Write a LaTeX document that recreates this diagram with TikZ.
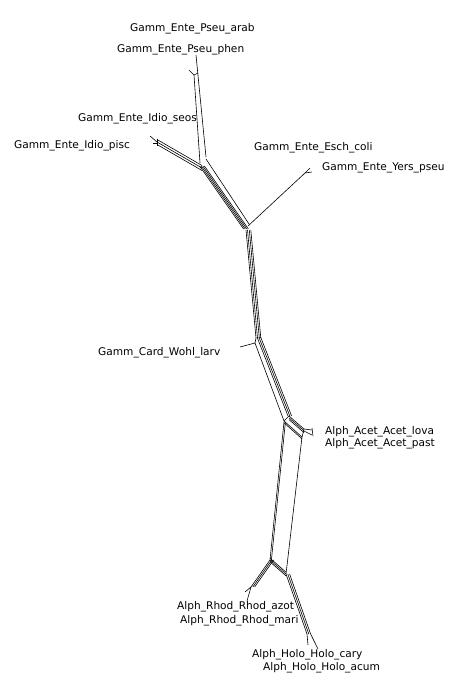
\documentclass[tikz,border=0pt]{standalone}
\usepackage{fontspec}
\setmainfont{DejaVu Sans}
\tikzset{
  edge/.style={line width=0.6pt, draw=black},
  lab/.style={font=\fontsize{10.6}{12}\selectfont, anchor=west, inner sep=0pt}
}

\begin{document}
\begin{tikzpicture}[x=1pt,y=-1pt]
  \useasboundingbox (0,0) rectangle (468,700);

  % Gamm_Ente_Pseu
  \coordinate (phen) at (196,55);
  \coordinate (arab) at (189,70);
  \coordinate (pj) at (194,75);
  \coordinate (pa) at (206,157);
  \coordinate (pb) at (200,163);
  \draw[edge] (phen) -- (pa);
  \draw[edge] (pj) -- (pb);
  \draw[edge] (arab) -- (pj) -- (198,73);

  % Gamm_Ente_Idio
  \coordinate (pisc) at (150,136);
  \coordinate (ij) at (157,142);
  \coordinate (ie) at (202,168);
  \foreach \o in {-2.5,0,2.5}
    \draw[edge] ([yshift=\o]ij) -- ([yshift=\o]ie);
  \draw[edge] (pisc) -- (ij);
  \draw[edge] (157,139) -- (157,146);
  \draw[edge] (153,143) -- (157,143);

  % band down to the Gamm_Ente junction
  \coordinate (gtop) at (202,166);
  \coordinate (gbot) at (246,229);
  \foreach \o in {-2.4,-0.8,0.8,2.4}
    \draw[edge] ([xshift=\o]gtop) -- ([xshift=\o]gbot);
  \draw[edge] (206,159) -- (249,224);

  % Esch / Yers
  \coordinate (gj) at (248,226);
  \coordinate (ey) at (305,173);
  \draw[edge] (gj) -- (ey);
  \draw[edge] (ey) -- (310,168);
  \draw[edge] (ey) -- (312,172);

  % long middle band
  \coordinate (m1) at (246,230);
  \coordinate (m2) at (256,338);
  \foreach \o in {0,1.5,3.3,4.8}
    \draw[edge] ([xshift=\o]m1) -- ([xshift=\o]m2);

  % Gamm_Card_Wohl
  \coordinate (wj) at (255,343);
  \coordinate (wohl) at (240,347);
  \draw[edge] (wj) -- (wohl);
  \draw[edge] (m2) -- (wj);

  % band down to Alph_Acet
  \coordinate (b1) at (257,337);
  \coordinate (b2) at (288,416);
  \foreach \o in {0,1.8,3.6}
    \draw[edge] ([xshift=\o]b1) -- ([xshift=\o]b2);
  \draw[edge] (wj) -- (284,421);

  % Alph_Acet box
  \coordinate (a1) at (289,416);
  \coordinate (a2) at (304,429);
  \coordinate (a3) at (284,421);
  \coordinate (a4) at (302,437);
  \foreach \o in {0,-1.8,-3.6}
    \draw[edge] ([yshift=\o]a1) -- ([yshift=\o]a2);
  \foreach \o in {0,-1.8}
    \draw[edge] ([yshift=\o]a3) -- ([yshift=\o]a4);
  \draw[edge] (a1) -- (a3);
  \draw[edge] (a2) -- (a4);
  \draw[edge] (a2) -- (312,430);
  \draw[edge] ([yshift=-2]a2) -- (312,435);
  \draw[edge] (312,428) -- (313,436);

  % long Alph lines
  \coordinate (lt) at (284,422);
  \coordinate (rj) at (270,560);
  \coordinate (rb) at (286,574);
  \foreach \o in {0,1.4}
    \draw[edge] ([xshift=\o]lt) -- ([xshift=\o]rj);
  \draw[edge] (a4) -- (rb);
  \foreach \o in {1.8,0,-1.8}
    \draw[edge] ([yshift=\o]rj) -- ([yshift=\o]rb);

  % Alph_Rhod
  \coordinate (rl) at (251,587);
  \foreach \o in {0,1.8,3.6}
    \draw[edge] ([xshift=\o]rj) -- ([xshift=\o]rl);
  \draw[edge] (rl) -- (245,592);
  \draw[edge] (rl) -- (247,601);

  % Alph_Holo
  \coordinate (hl) at (307,634);
  \foreach \o in {0,1.8,3.6}
    \draw[edge] ([xshift=\o]rb) -- ([xshift=\o]hl);
  \draw[edge] (hl) -- (308,645);
  \draw[edge] ([xshift=3.6]hl) -- (318,649);

  % labels
  \node[lab] (l1) at (130,29) {Gamm\_Ente\_Pseu\_arab};
  \node[lab] (l2) at (117,50) {Gamm\_Ente\_Pseu\_phen};
  \node[lab] (l3) at (78,119) {Gamm\_Ente\_Idio\_seos};
  \node[lab] (l4) at (14,146) {Gamm\_Ente\_Idio\_pisc};
  \node[lab] (l5) at (254,148) {Gamm\_Ente\_Esch\_coli};
  \node[lab] (l6) at (322,168) {Gamm\_Ente\_Yers\_pseu};
  \node[lab] (l7) at (98,353) {Gamm\_Card\_Wohl\_larv};
  \node[lab] (l8) at (325,432) {Alph\_Acet\_Acet\_lova};
  \node[lab] (l9) at (325,444) {Alph\_Acet\_Acet\_past};
  \node[lab] (l10) at (177,607) {Alph\_Rhod\_Rhod\_azot};
  \node[lab] (l11) at (180,621) {Alph\_Rhod\_Rhod\_mari};
  \node[lab] (l12) at (252,655) {Alph\_Holo\_Holo\_cary};
  \node[lab] (l13) at (263,668) {Alph\_Holo\_Holo\_acum};
\end{tikzpicture}
\end{document}
